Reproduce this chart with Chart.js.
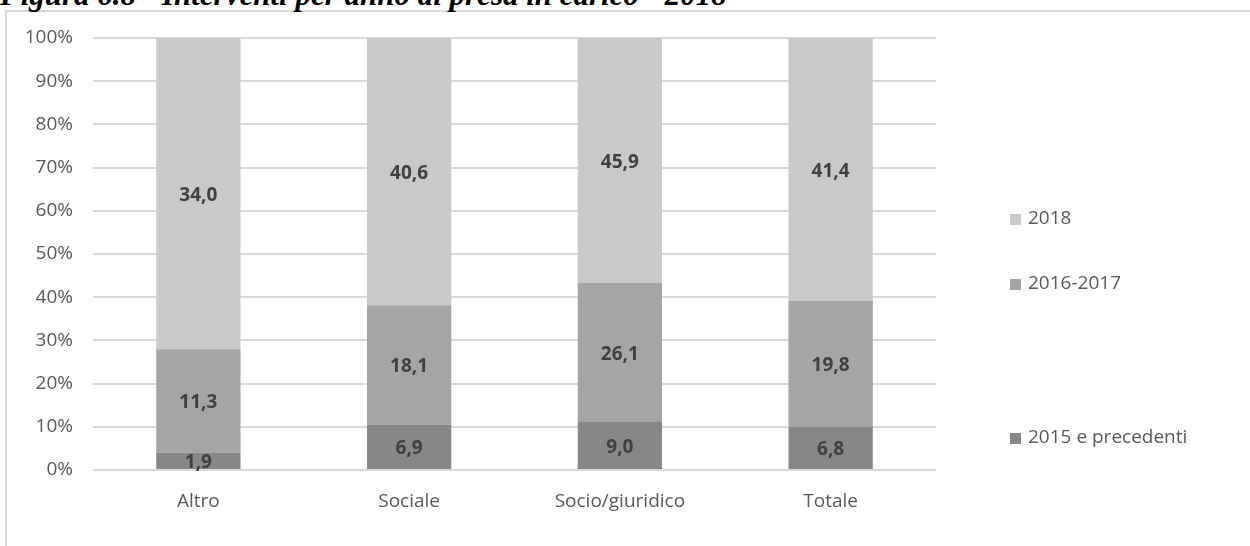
<!DOCTYPE html>
<html lang="it">
<head>
<meta charset="utf-8">
<title>Interventi per anno di presa in carico - 2018</title>
<script src="https://cdn.jsdelivr.net/npm/chart.js@4/dist/chart.umd.min.js"></script>
<style>
  html, body { margin: 0; padding: 0; background: #fff; }
  body { position: relative; width: 1250px; height: 546px; overflow: hidden; }
  #titolo {
    position: absolute; left: 0; top: -21px; margin: 0;
    font: italic bold 31px "Liberation Serif", "Times New Roman", serif;
    line-height: 31px; color: #000; white-space: nowrap;
  }
  #cornice {
    position: absolute; left: 5px; top: 10px; width: 1400px; height: 700px;
    border: 2px solid #d9d9d9; box-sizing: border-box;
  }
  #grafico { position: absolute; left: 0; top: 0; }
</style>
</head>
<body>
<div id="cornice"></div>
<p id="titolo">Figura 6.8 - Interventi per anno di presa in carico - 2018</p>
<canvas id="grafico" width="1250" height="546"></canvas>
<script>
const categorie = ['Altro', 'Sociale', 'Socio/giuridico', 'Totale'];
const fino2015 = [1.9, 6.9, 9.0, 6.8];
const anni2016_2017 = [11.3, 18.1, 26.1, 19.8];
const anno2018 = [34.0, 40.6, 45.9, 41.4];
const tickPercentuali = [0, 10, 20, 30, 40, 50, 60, 70, 80, 90, 100];

const FONT = '"Open Sans", "DejaVu Sans", sans-serif';

// quota percentuale di ogni serie sul totale della categoria
const totali = categorie.map((_, i) => fino2015[i] + anni2016_2017[i] + anno2018[i]);
const quota = arr => arr.map((v, i) => v / totali[i] * 100);

const serie = [
  { label: '2015 e precedenti', valori: fino2015, colore: '#878787' },
  { label: '2016-2017', valori: anni2016_2017, colore: '#a5a5a5' },
  { label: '2018', valori: anno2018, colore: '#c9c9c9' }
];

// etichette con il valore originale, al centro di ogni segmento
const etichetteValori = {
  id: 'etichetteValori',
  afterDatasetsDraw(chart) {
    const ctx = chart.ctx;
    ctx.save();
    ctx.font = 'bold 19px ' + FONT;
    ctx.fillStyle = '#404040';
    ctx.textAlign = 'center';
    ctx.textBaseline = 'middle';
    chart.data.datasets.forEach((ds, di) => {
      chart.getDatasetMeta(di).data.forEach((bar, i) => {
        const testo = ds.valori[i].toFixed(1).replace('.', ',');
        ctx.fillText(testo, bar.x, (bar.y + bar.base) / 2 + 2);
      });
    });
    ctx.restore();
  }
};

// legenda a destra, serie dall'alto verso il basso
const legendaDestra = {
  id: 'legendaDestra',
  afterDraw(chart, args, opts) {
    const ctx = chart.ctx;
    ctx.save();
    ctx.font = '19px ' + FONT;
    ctx.textBaseline = 'middle';
    const ds = chart.data.datasets.slice().reverse();
    ds.forEach((d, i) => {
      const y = opts.righe[i];
      ctx.fillStyle = d.backgroundColor;
      ctx.fillRect(opts.x, y - 5, 11, 11);
      ctx.fillStyle = '#595959';
      ctx.fillText(d.label, opts.x + 18, y);
    });
    ctx.restore();
  }
};

new Chart(document.getElementById('grafico'), {
  type: 'bar',
  data: {
    labels: categorie,
    datasets: serie.map(s => ({
      label: s.label,
      data: quota(s.valori),
      valori: s.valori,
      backgroundColor: s.colore,
      borderWidth: 0,
      categoryPercentage: 1,
      barPercentage: 0.4
    }))
  },
  options: {
    responsive: false,
    animation: false,
    layout: { padding: { top: 38, right: 314, bottom: 0, left: 0 } },
    scales: {
      x: {
        stacked: true,
        grid: { display: false, drawTicks: false },
        border: { display: false },
        ticks: { color: '#595959', font: { family: FONT, size: 19 }, padding: 20 },
        afterFit(scale) { scale.height = 76; }
      },
      y: {
        stacked: true,
        min: 0,
        max: 100,
        afterBuildTicks(scale) { scale.ticks = tickPercentuali.map(v => ({ value: v })); },
        grid: { color: '#d9d9d9', lineWidth: 2, drawTicks: false },
        border: { display: false },
        ticks: {
          color: '#595959',
          font: { family: FONT, size: 19 },
          padding: 20,
          callback: v => v + '%'
        },
        afterFit(scale) { scale.width = 93; }
      }
    },
    plugins: {
      legend: { display: false },
      tooltip: { enabled: false },
      legendaDestra: { x: 1010, righe: [219, 284, 438] }
    }
  },
  plugins: [etichetteValori, legendaDestra]
});
</script>
</body>
</html>
